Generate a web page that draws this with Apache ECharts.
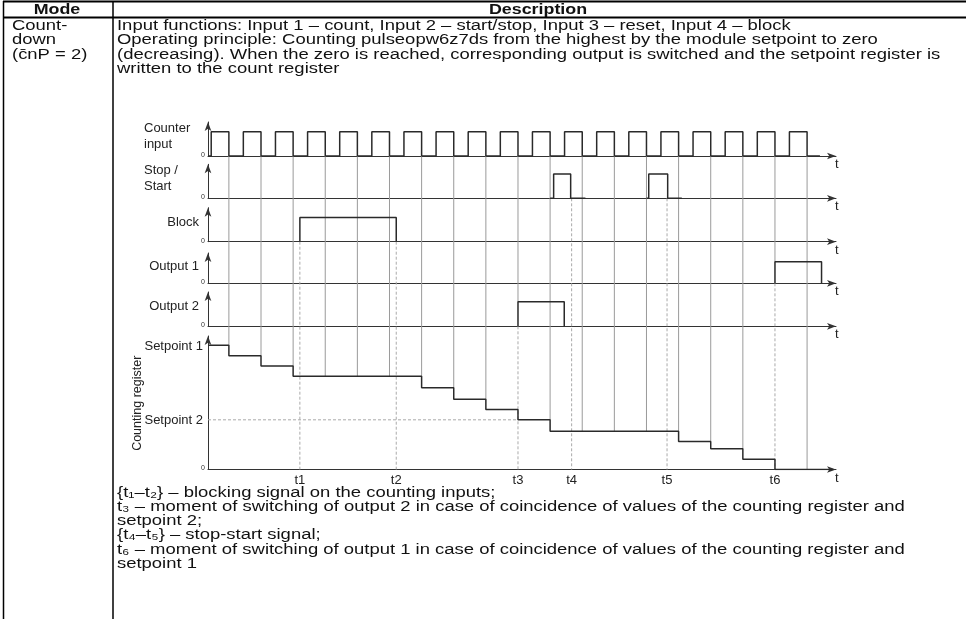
<!DOCTYPE html>
<html>
<head>
<meta charset="utf-8">
<script src="https://cdn.jsdelivr.net/npm/echarts@6.0.0/dist/echarts.min.js"></script>
<style>
html,body{margin:0;padding:0;background:#fff;}
#chart{width:966px;height:619px;}
</style>
</head>
<body>
<div id="chart"></div>
<script>
// ---------------- data ----------------
const headerTexts = ['Mode', 'Description'];
const modeLines = ['Count-', 'down', '(c\u0304nP = 2)'];
const descriptionLines = [
  'Input functions: Input 1 \u2013 count, Input 2 \u2013 start/stop, Input 3 \u2013 reset, Input 4 \u2013 block',
  'Operating principle: Counting pulseopw6z7ds from the highest by the module setpoint to zero',
  '(decreasing). When the zero is reached, corresponding output is switched and the setpoint register is',
  'written to the count register'
];
const noteLines = [
  '{t\u2081\u2013t\u2082} \u2013 blocking signal on the counting inputs;',
  't\u2083 \u2013 moment of switching of output 2 in case of coincidence of values of the counting register and',
  'setpoint 2;',
  '{t\u2084\u2013t\u2085} \u2013 stop-start signal;',
  't\u2086 \u2013 moment of switching of output 1 in case of coincidence of values of the counting register and',
  'setpoint 1'
];
const panelNames = ['Counter\ninput', 'Stop /\nStart', 'Block', 'Output 1', 'Output 2'];
const registerName = 'Counting register';

const counterStart = -0.65;
const counterEnd = 18.4;
const counterRise = [-0.55, 0.45, 1.45, 2.45, 3.45, 4.45, 5.45, 6.45, 7.45, 8.45, 9.45, 10.45, 11.45, 12.45, 13.45, 14.45, 15.45, 16.45, 17.45];
const counterFall = [0, 1, 2, 3, 4, 5, 6, 7, 8, 9, 10, 11, 12, 13, 14, 15, 16, 17, 18];

const stopLead = [10.0, 13.0];
const stopRise = [10.11, 13.07];
const stopFall = [10.64, 13.66];
const stopTail = [11.1, 14.1];

const blockRise = [2.21];
const blockFall = [5.21];
const output1Rise = [17.0];
const output1Fall = [18.45];
const output2Rise = [9.0];
const output2Fall = [10.44];

const registerTimes  = [-0.65, 0, 1, 2, 6, 7, 8, 9, 10, 14, 15, 16, 17];
const registerValues = [12, 11, 10, 9, 7.9, 6.8, 5.8, 4.8, 3.7, 2.7, 2, 1, 0];
const registerEnd = 18.8;

const setpointNames = ['Setpoint 1', 'Setpoint 2'];
const setpointValues = [12, 4.8];

const tNames = ['t1', 't2', 't3', 't4', 't5', 't6'];
const tTimes = [2.21, 5.21, 9.0, 10.67, 13.64, 17.0];
const tSourcePanel = [2, 2, 4, 1, 1, 3];

// ---------------- layout / style ----------------
const FONT = '"Liberation Sans", Arial, Helvetica, sans-serif';
const TXT = 15.5, SX = 1.19;
const LBL = 13;
const XMIN = -0.65, XMAX = 18.9;
const panels = [
  {top: 122, height: 34, max: 1.4},
  {top: 164.3, height: 34, max: 1.4},
  {top: 207.7, height: 34, max: 1.4},
  {top: 253, height: 30.3, max: 1.4},
  {top: 292, height: 34.3, max: 1.4},
  {top: 336, height: 133.5, max: 12.9}
];
const SIG = {color: '#2a2a2a', width: 1.5};
const AXC = '#333';

const chart = echarts.init(document.getElementById('chart'));

function lineSeries(panel, data) {
  return {
    type: 'line', xAxisIndex: panel, yAxisIndex: panel, data: data, step: 'end',
    showSymbol: false, symbol: 'none', silent: true, z: 5,
    lineStyle: {color: SIG.color, width: SIG.width}
  };
}
function pulseSeries(panel, lead, rise, fall, tail) {
  const out = [];
  for (let i = 0; i < rise.length; i++) {
    const d = [[lead[i], 0], [rise[i], 1], [fall[i], 0]];
    if (tail[i] > fall[i]) d.push([tail[i], 0]);
    out.push(lineSeries(panel, d));
  }
  return out;
}

const counterData = [[counterStart, 0]];
counterRise.forEach((r, i) => { counterData.push([r, 1]); counterData.push([counterFall[i], 0]); });
counterData.push([counterEnd, 0]);

const registerData = registerTimes.map((t, i) => [t, registerValues[i]]);
registerData.push([registerEnd, 0]);

const series = [lineSeries(0, counterData)]
  .concat(pulseSeries(1, stopLead, stopRise, stopFall, stopTail))
  .concat(pulseSeries(2, blockRise, blockRise, blockFall, blockFall))
  .concat(pulseSeries(3, output1Rise, output1Rise, output1Fall, output1Fall))
  .concat(pulseSeries(4, output2Rise, output2Rise, output2Fall, output2Fall))
  .concat([lineSeries(5, registerData)]);

const option = {
  animation: false,
  backgroundColor: '#fff',
  grid: panels.map(p => ({left: 208, right: 966 - 836, top: p.top, height: p.height})),
  xAxis: panels.map((p, i) => ({
    gridIndex: i, type: 'value', min: XMIN, max: XMAX,
    axisLine: {show: true, onZero: false, symbol: ['none', 'arrow'], symbolSize: [5, 9], lineStyle: {color: AXC, width: 1}},
    axisTick: {show: false}, axisLabel: {show: false}, splitLine: {show: false}
  })),
  yAxis: panels.map((p, i) => ({
    gridIndex: i, type: 'value', min: 0, max: p.max,
    axisLine: {show: true, onZero: false, symbol: ['none', 'arrow'], symbolSize: [5, 9], lineStyle: {color: AXC, width: 1}},
    axisTick: {show: false}, axisLabel: {show: false}, splitLine: {show: false}
  })),
  series: series
};
chart.setOption(option);

// ---------------- derived graphics ----------------
function px(g, x, y) { return chart.convertToPixel({gridIndex: g}, [x, y]); }
function levelBefore(t) {
  let v = registerValues[0];
  for (let i = 0; i < registerTimes.length; i++) if (registerTimes[i] < t - 1e-6) v = registerValues[i];
  return v;
}
function txt(x, y, text, opts) {
  opts = opts || {};
  return {
    type: 'text', x: x, y: y, z: 20, silent: true,
    scaleX: opts.sx || 1, rotation: opts.rot || 0,
    style: {
      text: text, fill: opts.color || '#111',
      font: (opts.weight || 'normal') + ' ' + (opts.size || LBL) + 'px ' + FONT,
      align: opts.align || 'left', verticalAlign: opts.va || 'middle',
      lineHeight: opts.lh || undefined
    }
  };
}
function ln(x1, y1, x2, y2, color, w, dash, z) {
  return {type: 'line', silent: true, z: z || 1,
    shape: {x1: x1, y1: y1, x2: x2, y2: y2},
    style: {stroke: color, lineWidth: w, lineDash: dash || null}};
}

const g = [];
// table frame
g.push(ln(3, 1.5, 966, 1.5, '#000', 2, null, 30));
g.push(ln(3, 17.5, 966, 17.5, '#000', 2, null, 30));
g.push(ln(3.5, 1, 3.5, 619, '#000', 1.5, null, 30));
g.push(ln(113, 1, 113, 619, '#000', 1.5, null, 30));
g.push(txt(57, 10, headerTexts[0], {size: TXT - 0.5, weight: 'bold', align: 'center', sx: SX}));
g.push(txt(538, 10, headerTexts[1], {size: TXT - 0.5, weight: 'bold', align: 'center', sx: SX}));
modeLines.forEach((s, i) => g.push(txt(12, 25.8 + i * 14.3, s, {size: TXT, sx: SX})));
descriptionLines.forEach((s, i) => g.push(txt(117, 25.8 + i * 14.3, s, {size: TXT, sx: SX})));
noteLines.forEach((s, i) => g.push(txt(117, 492.5 + i * 14.2, s, {size: TXT, sx: SX})));

// vertical grid lines at each counting pulse
const counterBase = px(0, 0, 0)[1];
counterFall.forEach(k => {
  const x = px(0, k, 0)[0];
  let yb;
  const ti = tTimes.findIndex(t => Math.abs(t - k) < 1e-6);
  if (ti >= 0 && (tSourcePanel[ti] === 3 || tSourcePanel[ti] === 4)) yb = px(tSourcePanel[ti], k, 1)[1];
  else yb = px(5, k, levelBefore(k))[1];
  g.push(ln(x, counterBase, x, yb, '#9a9a9a', 1, null, 1));
});
// dashed event lines
tTimes.forEach((t, i) => {
  const top = px(tSourcePanel[i], t, 0);
  const bot = px(5, t, 0);
  g.push(ln(top[0], top[1], bot[0], bot[1], '#aaa', 1, [3, 2], 1));
  g.push(txt(bot[0], bot[1] + 11, tNames[i], {align: 'center', color: '#222'}));
});
// setpoint 2 dashed reference
const sp2Idx = registerValues.indexOf(setpointValues[1]);
const a = px(5, XMIN, setpointValues[1]), b = px(5, registerTimes[sp2Idx], setpointValues[1]);
g.push(ln(a[0], a[1], b[0], b[1], '#aaa', 1, [3, 2], 1));
// setpoint labels
setpointValues.forEach((v, i) => {
  const p = px(5, XMIN, v);
  g.push(txt(p[0] - 5, p[1] + 1, setpointNames[i], {align: 'right', color: '#222'}));
});
// panel names, zero labels, t labels
panelNames.forEach((n, i) => {
  const p = px(i, XMIN, 0.8);
  const two = n.indexOf('\n') >= 0;
  g.push(txt(two ? p[0] - 64 : p[0] - 9, p[1], n, {align: two ? 'left' : 'right', color: '#222', lh: 16}));
});
for (let i = 0; i < panels.length; i++) {
  const o = px(i, XMIN, 0);
  g.push(txt(o[0] - 3, o[1] - 1, '0', {size: 7, align: 'right', color: '#333'}));
  const e = px(i, XMAX, 0);
  g.push(txt(e[0] - 1, e[1] + 2, 't', {size: 13, align: 'left', va: 'top', color: '#222'}));
}
const rm = px(5, XMIN, 6.4);
g.push(txt(rm[0] - 70, rm[1], registerName, {size: 12.5, align: 'center', color: '#222', rot: Math.PI / 2}));

chart.setOption({graphic: {elements: g}});
</script>
</body>
</html>
